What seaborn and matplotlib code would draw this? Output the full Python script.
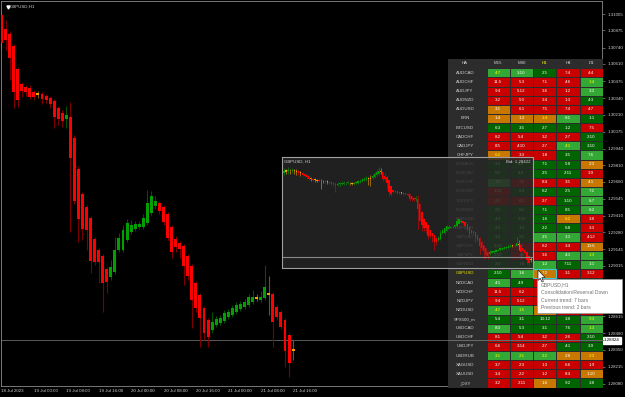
import numpy as np
import pandas as pd
import matplotlib
matplotlib.use("Agg")
import matplotlib.pyplot as plt
import seaborn as sns
from matplotlib.colors import ListedColormap
from matplotlib.patches import Rectangle, Polygon
from matplotlib.lines import Line2D
from matplotlib.transforms import blended_transform_factory

# ---------------- data ----------------
chart_title = "GBPUSD,H1"
mini_title = "GBPUSD, H1"
bid_price = 1.28424
mini_bid = 1.28422

# Heiken-Ashi candles of the main chart (18 Jul 16:00 ... 21 Jul 16:00)
ha_open = [1.30997, 1.30886, 1.30847, 1.30752, 1.30570, 1.30452, 1.30428, 1.30420, 1.30388, 1.30380,
           1.30373, 1.30357, 1.30341, 1.30317, 1.30262, 1.30222, 1.30175, 1.30191, 1.30025, 1.29780,
           1.29582, 1.29479, 1.29392, 1.29226, 1.29139, 1.29092, 1.28989, 1.28926, 1.28966, 1.29139,
           1.29139, 1.29218, 1.29282, 1.29305, 1.29321, 1.29321, 1.29353, 1.29432, 1.29487, 1.29511,
           1.29479, 1.29424, 1.29321, 1.29226, 1.29195, 1.29171, 1.29092, 1.29013, 1.28878, 1.28784,
           1.28681, 1.28586, 1.28507, 1.28547, 1.28562, 1.28578, 1.28610, 1.28626, 1.28649, 1.28673,
           1.28689, 1.28705, 1.28728, 1.28752, 1.28744, 1.28760, 1.28784, 1.28791, 1.28689, 1.28649,
           1.28586, 1.28467, 1.28357]
ha_close = [1.30776, 1.30799, 1.30657, 1.30388, 1.30325, 1.30396, 1.30388, 1.30349, 1.30349, 1.30365,
            1.30333, 1.30325, 1.30294, 1.30191, 1.30175, 1.30159, 1.30207, 1.29867, 1.29527, 1.29385,
            1.29305, 1.29297, 1.29052, 1.29045, 1.29045, 1.28878, 1.28886, 1.29005, 1.29139, 1.29234,
            1.29297, 1.29353, 1.29337, 1.29345, 1.29345, 1.29392, 1.29511, 1.29566, 1.29527, 1.29448,
            1.29361, 1.29234, 1.29124, 1.29163, 1.29147, 1.29013, 1.28934, 1.28744, 1.28681, 1.28602,
            1.28483, 1.28452, 1.28570, 1.28594, 1.28602, 1.28642, 1.28649, 1.28681, 1.28705, 1.28713,
            1.28728, 1.28768, 1.28768, 1.28768, 1.28768, 1.28847, 1.28799, 1.28570, 1.28610, 1.28531,
            1.28341, 1.28246, 1.28341]
ha_high = [1.31005, 1.30958, 1.30871, 1.30768, 1.30586, 1.30467, 1.30444, 1.30444, 1.30404, 1.30396,
           1.30388, 1.30373, 1.30357, 1.30333, 1.30278, 1.30246, 1.30278, 1.30309, 1.30049, 1.29803,
           1.29598, 1.29495, 1.29408, 1.29242, 1.29155, 1.29108, 1.29005, 1.29060, 1.29242, 1.29274,
           1.29337, 1.29385, 1.29377, 1.29369, 1.29369, 1.29424, 1.29614, 1.29606, 1.29566, 1.29527,
           1.29495, 1.29440, 1.29337, 1.29250, 1.29211, 1.29187, 1.29108, 1.29029, 1.28894, 1.28799,
           1.28697, 1.28602, 1.28649, 1.28618, 1.28626, 1.28665, 1.28673, 1.28705, 1.28728, 1.28736,
           1.28752, 1.28791, 1.28823, 1.28791, 1.28815, 1.29021, 1.28934, 1.28807, 1.28705, 1.28665,
           1.28602, 1.28483, 1.28428]
ha_low = [1.30720, 1.30720, 1.30483, 1.30262, 1.30270, 1.30349, 1.30357, 1.30333, 1.30325, 1.30341,
          1.30294, 1.30301, 1.30262, 1.30104, 1.30128, 1.30112, 1.30104, 1.29282, 1.29503, 1.29203,
          1.29218, 1.29139, 1.28958, 1.29021, 1.28878, 1.28649, 1.28799, 1.28902, 1.28950, 1.29124,
          1.29124, 1.29203, 1.29266, 1.29290, 1.29305, 1.29305, 1.29337, 1.29416, 1.29464, 1.29424,
          1.29337, 1.29218, 1.29076, 1.29124, 1.29076, 1.28863, 1.28902, 1.28523, 1.28649, 1.28373,
          1.28428, 1.28373, 1.28483, 1.28531, 1.28547, 1.28562, 1.28594, 1.28610, 1.28635, 1.28657,
          1.28673, 1.28689, 1.28713, 1.28736, 1.28728, 1.28744, 1.28626, 1.28373, 1.28586, 1.28515,
          1.28215, 1.28136, 1.28270]
ha_state = list("rrrrrrrrr" "o" "rrrrrr" "g" "rrrrrrrrrr" "gggggggggggg"
                "rrrrrrrrrrrrr" "ggggggggggg" "o" "gg" "o" "rrrrr" "o")

# earlier history shown only in the small GBPUSD window
pre_open = [1.3098, 1.3101, 1.3103, 1.3104, 1.3103, 1.3105, 1.3104, 1.3102, 1.3100, 1.3098,
            1.3095, 1.3091, 1.3087, 1.3083, 1.3080, 1.3078, 1.3076, 1.3075, 1.3074, 1.3073,
            1.3072, 1.3071, 1.3070, 1.3068, 1.3066, 1.3064, 1.3060, 1.3062, 1.3063, 1.3064,
            1.3065, 1.3066, 1.3066, 1.3065, 1.3064, 1.3065, 1.3066, 1.3069, 1.3072, 1.3075,
            1.3078, 1.3080, 1.3079, 1.3081, 1.3085, 1.3090, 1.3095, 1.3100]
pre_close = [1.3104, 1.3105, 1.3106, 1.3102, 1.3106, 1.3103, 1.3100, 1.3098, 1.3097, 1.3092,
             1.3088, 1.3084, 1.3080, 1.3078, 1.3076, 1.3075, 1.3074, 1.3073, 1.3072, 1.3071,
             1.3070, 1.3069, 1.3066, 1.3064, 1.3062, 1.3060, 1.3064, 1.3065, 1.3066, 1.3067,
             1.3066, 1.3067, 1.3065, 1.3063, 1.3066, 1.3068, 1.3071, 1.3074, 1.3078, 1.3080,
             1.3081, 1.3079, 1.3083, 1.3088, 1.3093, 1.3099, 1.3104, 1.3102]
pre_high = [1.3112, 1.3110, 1.3114, 1.3110, 1.3113, 1.3109, 1.3108, 1.3106, 1.3104, 1.3101,
            1.3098, 1.3094, 1.3090, 1.3086, 1.3083, 1.3081, 1.3080, 1.3079, 1.3078, 1.3077,
            1.3076, 1.3075, 1.3073, 1.3071, 1.3069, 1.3068, 1.3069, 1.3070, 1.3071, 1.3071,
            1.3070, 1.3072, 1.3070, 1.3069, 1.3070, 1.3073, 1.3076, 1.3080, 1.3083, 1.3086,
            1.3088, 1.3085, 1.3090, 1.3094, 1.3100, 1.3108, 1.3115, 1.3112]
pre_low = [1.3090, 1.3093, 1.3095, 1.3094, 1.3096, 1.3094, 1.3092, 1.3090, 1.3088, 1.3088,
           1.3084, 1.3080, 1.3077, 1.3074, 1.3072, 1.3070, 1.3070, 1.3069, 1.3047, 1.3066,
           1.3066, 1.3064, 1.3062, 1.3060, 1.3058, 1.3038, 1.3056, 1.3058, 1.3059, 1.3060,
           1.3061, 1.3062, 1.3061, 1.3059, 1.3060, 1.3062, 1.3063, 1.3066, 1.3069, 1.3072,
           1.3074, 1.3060, 1.3058, 1.3078, 1.3082, 1.3087, 1.3092, 1.3094]
pre_state = list("gogogooro" "rrrror" "ooroororrrr" "ggggggoogg" "ggggg" "oo" "gggg" "o")

price_ticks = [1.31005, 1.30875, 1.30740, 1.30610, 1.30475, 1.30340, 1.30210, 1.30075,
               1.29940, 1.29810, 1.29680, 1.29545, 1.29410, 1.29280, 1.29145, 1.29015,
               1.28880, 1.28750, 1.28615, 1.28480, 1.28350, 1.28215, 1.28080]
time_tick_bars = [0, 8, 16, 24, 32, 40, 48, 56, 64, 72]
time_tick_labels = ["18 Jul 2023", "19 Jul 00:00", "19 Jul 08:00", "19 Jul 16:00",
                    "20 Jul 00:00", "20 Jul 08:00", "20 Jul 16:00", "21 Jul 00:00",
                    "21 Jul 08:00", "21 Jul 16:00"]

# dashboard table
table_corner = "HA"
timeframes = ["M15", "M30", "H1", "H4", "D1"]
current_tf = "H1"
symbols = ["AUDCAD", "AUDCHF", "AUDJPY", "AUDNZD", "AUDUSD", "BRN", "BTCUSD", "CADCHF",
           "CADJPY", "CHFJPY", "EURAUD", "EURCAD", "EURCHF", "EURGBP", "EURJPY", "EURNZD",
           "EURUSD", "GBPAUD", "GBPCAD", "GBPCHF", "GBPJPY", "GBPNZD", "GBPUSD", "NZDCAD",
           "NZDCHF", "NZDJPY", "NZDUSD", "SPX500_m", "USDCAD", "USDCHF", "USDJPY", "USDRUB",
           "XAGUSD", "XAUUSD", "_DXY"]
current_symbol = "GBPUSD"
cell_state = ["LLGRR", "RRRRL", "RRRRL", "RRRRG", "ORRRR", "OOOLG", "GGGGR", "RRRRG",
              "RRRLG", "ORRGL", "GGGGO", "GGGGR", "LRRRO", "RGGGL", "RRRGL", "GGGGL",
              "GGGOR", "GGGGR", "GGLLR", "GRRRO", "GRRLL", "GGLGL", "GLORR", "LGRGL",
              "RRRRL", "RRRRL", "LLORR", "GGGGL", "LGGGL", "RRRRG", "RRRGG", "LLLOO",
              "RRRRR", "RRRRO", "RROGG"]
cell_text = [
    ["4:7", "3:10", "2:5", "7:4", "4:4"], ["11:5", "5:3", "7:1", "4:6", "1:4"],
    ["9:4", "5:12", "3:6", "1:2", "3:3"], ["3:2", "5:0", "3:4", "1:3", "4:3"],
    ["3:1", "6:1", "7:5", "7:4", "4:7"], ["1:4", "1:3", "1:4", "8:1", "1:1"],
    ["6:3", "3:5", "2:7", "1:2", "7:5"], ["8:2", "5:4", "3:2", "2:7", "2:10"],
    ["8:5", "4:10", "2:7", "4:1", "3:10"], ["6:2", "3:3", "1:8", "3:5", "7:6"],
    ["3:3", "4:4", "7:1", "5:8", "2:3"], ["0:2", "4:5", "2:5", "2:11", "3:9"],
    ["1:6", "7:2", "8:4", "3:5", "4:1"], ["1:11", "6:3", "6:2", "2:5", "7:2"],
    ["2:2", "6:2", "2:7", "3:10", "6:7"], ["2:1", "6:1", "7:1", "8:5", "6:2"],
    ["4:2", "2:11", "1:6", "6:2", "3:8"], ["2:3", "1:2", "2:2", "6:8", "3:3"],
    ["3:3", "2:1", "2:5", "1:1", "4:12"], ["1:12", "4:2", "6:2", "3:4", "10:6"],
    ["2:10", "1:8", "3:6", "4:1", "1:3"], ["2:4", "1:8", "1:2", "7:11", "1:1"],
    ["2:10", "1:6", "7:2", "3:1", "3:12"], ["4:1", "4:9", "2:6", "3:5", "1:2"],
    ["11:5", "6:2", "3:1", "4:6", "1:4"], ["9:4", "5:12", "3:6", "1:2", "3:3"],
    ["4:7", "1:5", "1:1", "7:4", "4:7"], ["5:4", "3:1", "13:12", "3:8", "9:3"],
    ["8:3", "5:3", "3:1", "7:6", "1:3"], ["8:1", "5:4", "3:2", "2:6", "2:10"],
    ["6:6", "3:14", "2:7", "4:1", "3:9"], ["3:1", "2:1", "2:2", "2:8", "2:3"],
    ["3:7", "2:3", "1:3", "6:6", "1:9"], ["3:4", "2:2", "1:2", "8:4", "1:10"],
    ["3:2", "2:11", "1:6", "9:2", "3:8"]]
yellow_cells = [(0, 0), (1, 4), (5, 2), (8, 3), (9, 0), (16, 3), (20, 4), (26, 0), (26, 1),
                (27, 4), (28, 4), (31, 0), (31, 1), (31, 2), (31, 4)]
tooltip_lines = ["GBPUSD,H1", "Consolidation/Reversal Down", "Current trend: 7 bars",
                 "Previous trend: 2 bars"]

# ---------------- style ----------------
sns.set_theme(style="dark")
plt.rcParams["font.family"] = ["Liberation Sans", "DejaVu Sans"]
FS = 3.2
W, H = 625, 397
TIP = (537, 279, 622, 313)   # tooltip box in pixels (x0, y0, x1, y1)


def frect(x0, y0, x1, y1):
    return [x0 / W, 1 - y1 / H, (x1 - x0) / W, (y1 - y0) / H]


fig = plt.figure(figsize=(W / 100, H / 100), dpi=100, facecolor="black")

body_cols = {"r": "#ff0000", "g": "#00a000", "o": "#ffa000"}
wick_cols = {"r": "#7a0000", "g": "#005200", "o": "#7a5200"}

# ---------------- main chart ----------------
ax = fig.add_axes(frect(1, 1, 602, 386), zorder=0)
ax.set_facecolor("black")
df = pd.DataFrame(dict(o=ha_open, c=ha_close, h=ha_high, l=ha_low, k=ha_state))
xs = np.arange(len(df))
ax.vlines(xs, df.l, df.h, colors=[wick_cols[k] for k in df.k], lw=0.8, zorder=2)
bottoms = np.minimum(df.o, df.c)
heights = np.maximum(np.abs(df.c - df.o), 0.00012)
ax.bar(xs, heights, bottom=bottoms, width=0.72, color=[body_cols[k] for k in df.k],
       linewidth=0, zorder=3)
ax.set_xlim(-0.123, 148.27)
ax.set_ylim(1.28064, 1.31108)
ax.axhline(bid_price, color="#5a5a5a", lw=0.7, zorder=1)
ax.grid(False)
for s in ax.spines.values():
    s.set_color("#8a8a8a")
    s.set_linewidth(0.6)
    s.set_visible(True)
ax.yaxis.tick_right()
ax.set_yticks(price_ticks)
ax.set_yticklabels([f"{v:.5f}" for v in price_ticks])
ax.set_xticks(time_tick_bars)
ax.set_xticklabels(time_tick_labels)
ax.tick_params(axis="both", colors="#8a8a8a", labelcolor="#d0d0d0", labelsize=FS,
               length=1.8, width=0.5, direction="out")
ax.tick_params(axis="y", pad=2.0)
ax.tick_params(axis="x", pad=0.6)
for lbl in ax.get_xticklabels():
    lbl.set_ha("left")
# price labels that sit behind the tooltip are hidden, as in the terminal
for v, lbl in zip(price_ticks, ax.get_yticklabels()):
    ypix = (1 - fig.transFigure.inverted().transform(ax.transData.transform((0, v)))[1]) * H
    if TIP[1] - 3 <= ypix <= TIP[3] + 1:
        lbl.set_visible(False)
ax.text(1.003, bid_price, f"{bid_price:.5f}", transform=blended_transform_factory(ax.transAxes, ax.transData),
        fontsize=FS, color="black", ha="left", va="center", clip_on=False, zorder=5,
        bbox=dict(boxstyle="square,pad=0.25", fc="white", ec="white"))
ax.plot([0.012], [0.985], marker="v", color="white", markersize=2.2, transform=ax.transAxes)
ax.text(0.015, 0.985, chart_title, transform=ax.transAxes, fontsize=FS, color="#d0d0d0",
        ha="left", va="center")

# ---------------- dashboard table ----------------
tax = fig.add_axes(frect(448, 58.5, 603, 387.5), zorder=1)
tax.set_facecolor("#2c2c2c")
tax.set_xlim(448, 603)
tax.set_ylim(387.5, 58.5)
tax.set_xticks([])
tax.set_yticks([])
for s in tax.spines.values():
    s.set_visible(False)
tax.text(465, 63.3, table_corner, fontsize=FS, color="#d0d0d0", ha="center", va="center")

code_map = {"R": 0, "G": 1, "L": 2, "O": 3}
codes = np.array([[code_map[c] for c in row] for row in cell_state])
labels = np.array(cell_text)
cmap = ListedColormap(["#c80000", "#006400", "#34a834", "#c87800"])

HX0, HY0, HX1, HY1 = 486.5, 68.3, 603, 387.5
hax = fig.add_axes(frect(HX0, HY0, HX1, HY1), zorder=1.5)
hax.set_facecolor("#2c2c2c")
sns.heatmap(codes, ax=hax, cmap=cmap, vmin=-0.5, vmax=3.5, cbar=False,
            linewidths=0.7, linecolor="#2c2c2c", annot=labels, fmt="",
            annot_kws={"fontsize": FS}, xticklabels=timeframes, yticklabels=symbols)
ysel = set(yellow_cells)
ncol = len(timeframes)
nrow = len(symbols)
cw = (HX1 - HX0) / ncol
rh = (HY1 - HY0) / nrow
for idx, t in enumerate(hax.texts):
    r, c = divmod(idx, ncol)
    t.set_color("#ffff00" if (r, c) in ysel else "white")
    cx = HX0 + (c + 0.5) * cw
    cy = HY0 + (r + 0.5) * rh
    if TIP[0] - 6 <= cx <= TIP[2] and TIP[1] <= cy <= TIP[3]:
        t.set_visible(False)   # covered by the tooltip
hax.xaxis.tick_top()
hax.tick_params(axis="x", length=0, pad=3.6, labelsize=FS, labelcolor="#d0d0d0")
hax.tick_params(axis="y", length=0, pad=15.5, labelsize=FS, labelcolor="#d0d0d0")
for t in hax.get_xticklabels():
    t.set_va("center")
    t.set_rotation(0)
    if t.get_text() == current_tf:
        t.set_color("#ffff00")
for t in hax.get_yticklabels():
    t.set_ha("center")
    t.set_rotation(0)
    if t.get_text() == current_symbol:
        t.set_color("#e8e800")
hax.set_xlabel("")
hax.set_ylabel("")
# hovered cell
r0 = symbols.index(current_symbol)
c0 = timeframes.index(current_tf)
hax.add_patch(Rectangle((c0, r0), 1, 1, fill=False, ec="#3cc8d0", lw=0.8, zorder=5))

# bid line crossing the table
disp = ax.transData.transform((0, bid_price))
fyb = fig.transFigure.inverted().transform(disp)[1]
fig.add_artist(Line2D([448 / W, 603 / W], [fyb, fyb], transform=fig.transFigure,
                      color="#6a6a6a", lw=0.7, zorder=1.8))

# ---------------- small GBPUSD window ----------------
ox = fig.add_axes(frect(282, 157, 533, 268), zorder=2)
ox.set_facecolor((0.153, 0.153, 0.153, 0.84))
m_open = pre_open + ha_open
m_close = pre_close + ha_close
m_high = pre_high + ha_high
m_low = pre_low + ha_low
m_state = pre_state + ha_state
mdf = pd.DataFrame(dict(o=m_open, c=m_close, h=m_high, l=m_low, k=m_state))
mx = np.arange(len(mdf))
ox.vlines(mx, mdf.l, mdf.h, colors=[body_cols[k] for k in mdf.k], lw=0.45, alpha=0.85)
ox.bar(mx, np.maximum(np.abs(mdf.c - mdf.o), 0.0002), bottom=np.minimum(mdf.o, mdf.c),
       width=0.62, color=[body_cols[k] for k in mdf.k], linewidth=0)
ox.set_xlim(-0.97, len(mdf) - 1 + 0.97)
ox.set_ylim(1.28089, 1.31452)
ox.axhline(mini_bid, color="#8a8a8a", lw=0.8)
ox.set_xticks([])
ox.set_yticks([])
ox.grid(False)
for s in ox.spines.values():
    s.set_visible(True)
    s.set_color("#a0a0a0")
    s.set_linewidth(0.8)
ox.text(0.008, 0.955, mini_title, transform=ox.transAxes, fontsize=FS, color="#d0d0d0",
        ha="left", va="center")
ox.text(0.99, 0.955, f"Bid: {mini_bid:.5f}", transform=ox.transAxes, fontsize=FS,
        color="#d0d0d0", ha="right", va="center")

# ---------------- tooltip and cursor ----------------
fig.add_artist(Rectangle((TIP[0] / W, 1 - TIP[3] / H), (TIP[2] - TIP[0]) / W, (TIP[3] - TIP[1]) / H,
                         transform=fig.transFigure, fc="white", ec="#9a9a9a", lw=0.6, zorder=10))
for k, line in enumerate(tooltip_lines):
    fig.text(541 / W, 1 - (285 + 7.6 * k) / H, line, fontsize=3.6, color="#707070",
             ha="left", va="center", zorder=11)
cur = [(538, 270), (538, 280.5), (540.3, 278.3), (542, 282), (543.4, 281.4), (541.8, 277.6), (545, 277.4)]
fig.add_artist(Polygon([(x / W, 1 - y / H) for x, y in cur], closed=True, transform=fig.transFigure,
                       fc="white", ec="black", lw=0.4, zorder=12))

fig.savefig("out.png", dpi=100, facecolor="black")
